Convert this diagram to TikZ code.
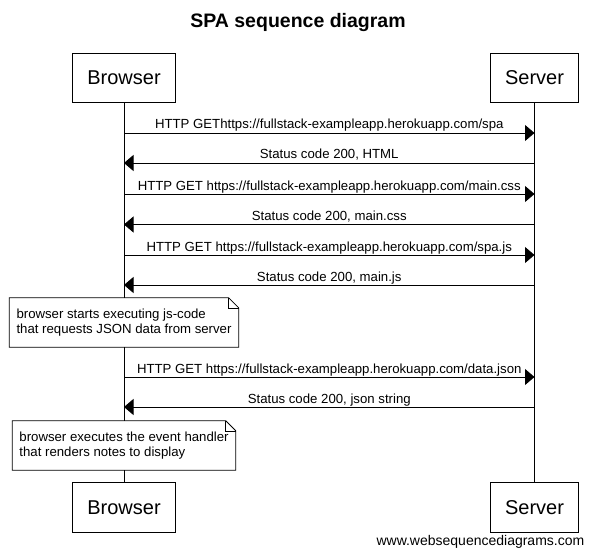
\documentclass[tikz,border=0pt]{standalone}
\usepackage{fontspec}
\setmainfont{Liberation Sans}
\usetikzlibrary{arrows.meta}

\tikzset{
  actor/.style={draw, line width=0.8pt, fill=white, minimum height=49.5pt, inner xsep=14.5pt,
                font=\fontsize{20}{24}\selectfont},
  msg/.style={line width=0.8pt, -{Triangle[length=9.5pt,width=16pt]}},
  lbl/.style={anchor=base, inner sep=0pt, yshift=4pt, font=\fontsize{13.2}{15}\selectfont},
  notebox/.style={fill=white, align=left, inner xsep=7pt, minimum height=49pt,
                  font=\fontsize{13.2}{15.5}\selectfont},
}

\begin{document}
\begin{tikzpicture}[x=1pt,y=-1pt]
  \useasboundingbox (0,0) rectangle (594,556);

  % title
  \node[anchor=base, font=\bfseries\fontsize{19.5}{23}\selectfont] (title) at (298,28) {SPA sequence diagram};

  % Browser and Server, top and bottom
  \node[actor] (bt) at (124,78)    {Browser};
  \node[actor] (st) at (534.5,78)  {Server};
  \node[actor] (bb) at (124,507.5) {Browser};
  \node[actor] (sb) at (534.5,507.5) {Server};

  % lifelines
  \draw[line width=0.8pt] (bt.south) -- (bb.north);
  \draw[line width=0.8pt] (st.south) -- (sb.north);

  % points on the lifelines
  \coordinate (b1) at (124,133);   \coordinate (s1) at (534.5,133);
  \coordinate (b2) at (124,163);   \coordinate (s2) at (534.5,163);
  \coordinate (b3) at (124,194);   \coordinate (s3) at (534.5,194);
  \coordinate (b4) at (124,224.5); \coordinate (s4) at (534.5,224.5);
  \coordinate (b5) at (124,255);   \coordinate (s5) at (534.5,255);
  \coordinate (b6) at (124,285);   \coordinate (s6) at (534.5,285);
  \coordinate (b7) at (124,377);   \coordinate (s7) at (534.5,377);
  \coordinate (b8) at (124,407);   \coordinate (s8) at (534.5,407);

  % messages
  \draw[msg] (b1) -- node[lbl] {HTTP GEThttps://fullstack-exampleapp.herokuapp.com/spa} (s1);
  \draw[msg] (s2) -- node[lbl] {Status code 200, HTML} (b2);
  \draw[msg] (b3) -- node[lbl] {HTTP GET https://fullstack-exampleapp.herokuapp.com/main.css} (s3);
  \draw[msg] (s4) -- node[lbl] {Status code 200, main.css} (b4);
  \draw[msg] (b5) -- node[lbl] {HTTP GET https://fullstack-exampleapp.herokuapp.com/spa.js} (s5);
  \draw[msg] (s6) -- node[lbl] {Status code 200, main.js} (b6);
  \draw[msg] (b7) -- node[lbl] {HTTP GET https://fullstack-exampleapp.herokuapp.com/data.json} (s7);
  \draw[msg] (s8) -- node[lbl] {Status code 200, json string} (b8);

  % note 1
  \node[notebox] (n1) at (124,322.5) {browser starts executing js-code\\that requests JSON data from server};
  \draw[line width=0.8pt] (n1.north west) -- ([xshift=-10pt]n1.north east) -- ([yshift=-10pt]n1.north east)
        -- (n1.south east) -- (n1.south west) -- cycle;
  \draw[line width=0.6pt] ([xshift=-10pt]n1.north east) |- ([yshift=-10pt]n1.north east);

  % note 2
  \node[notebox] (n2) at (124,445.5) {browser executes the event handler\\that renders notes to display};
  \draw[line width=0.8pt] (n2.north west) -- ([xshift=-10pt]n2.north east) -- ([yshift=-10pt]n2.north east)
        -- (n2.south east) -- (n2.south west) -- cycle;
  \draw[line width=0.6pt] ([xshift=-10pt]n2.north east) |- ([yshift=-10pt]n2.north east);

  % watermark
  \node[anchor=base east, inner sep=0pt, font=\fontsize{14}{16}\selectfont] (wsd) at (584.5,545.5) {www.websequencediagrams.com};
\end{tikzpicture}
\end{document}
